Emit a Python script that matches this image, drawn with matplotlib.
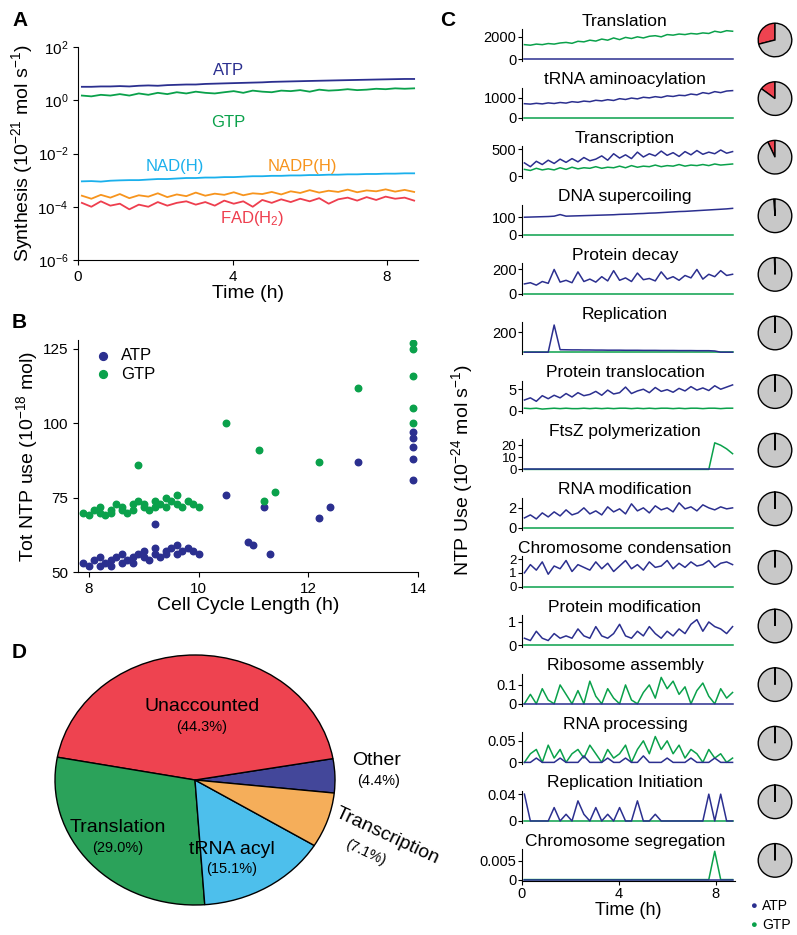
import numpy as np
import matplotlib.pyplot as plt

plt.rcParams['font.family'] = ['Liberation Sans', 'DejaVu Sans']
plt.rcParams['mathtext.default'] = 'regular'

ATPC, GTPC = '#2b2f8f', '#0aa14b'

# ---------------- data ----------------
t = np.linspace(0.1, 8.7, 36)

atp_syn = [3.2, 3.2, 3.3, 3.3, 3.4, 3.3, 3.5, 3.6, 3.5, 3.7, 3.8, 3.9, 3.9, 4.1, 4.2, 4.3, 4.4, 4.5,
           4.6, 4.7, 4.9, 5.0, 5.1, 5.2, 5.3, 5.4, 5.5, 5.6, 5.7, 5.8, 5.9, 6.0, 6.1, 6.2, 6.3, 6.3]
gtp_syn = [1.5, 1.4, 1.6, 1.5, 1.7, 1.5, 1.8, 1.6, 1.9, 1.7, 2.0, 1.8, 2.1, 1.9, 1.8, 2.0, 2.2, 1.9,
           2.3, 2.1, 2.0, 2.3, 2.2, 2.4, 2.1, 2.5, 2.3, 2.4, 2.6, 2.4, 2.5, 2.7, 2.6, 2.8, 2.7, 2.8]
nad_syn = [9.0e-4, 9.2e-4, 8.8e-4, 9.5e-4, 9.8e-4, 1.0e-3, 1.0e-3, 1.05e-3, 1.1e-3, 1.1e-3, 1.15e-3, 1.2e-3,
           1.2e-3, 1.25e-3, 1.25e-3, 1.3e-3, 1.3e-3, 1.35e-3, 1.4e-3, 1.4e-3, 1.45e-3, 1.45e-3, 1.5e-3, 1.5e-3,
           1.55e-3, 1.55e-3, 1.6e-3, 1.6e-3, 1.65e-3, 1.65e-3, 1.7e-3, 1.7e-3, 1.75e-3, 1.75e-3, 1.8e-3, 1.8e-3]
nadp_syn = [2.6e-4, 2.0e-4, 2.8e-4, 2.2e-4, 3.0e-4, 2.1e-4, 2.7e-4, 2.4e-4, 3.2e-4, 2.3e-4, 2.9e-4, 2.5e-4,
            3.4e-4, 2.6e-4, 3.1e-4, 2.8e-4, 3.5e-4, 2.7e-4, 3.2e-4, 3.0e-4, 3.6e-4, 2.9e-4, 3.8e-4, 3.3e-4,
            4.2e-4, 3.4e-4, 4.0e-4, 3.6e-4, 4.4e-4, 3.5e-4, 4.1e-4, 3.8e-4, 4.5e-4, 3.7e-4, 4.3e-4, 3.6e-4]
fad_syn = [1.4e-4, 1.0e-4, 1.6e-4, 1.1e-4, 1.3e-4, 0.8e-4, 1.2e-4, 1.0e-4, 1.5e-4, 1.1e-4, 1.4e-4, 1.6e-4,
           1.2e-4, 1.5e-4, 1.1e-4, 1.7e-4, 1.3e-4, 1.6e-4, 1.0e-4, 1.8e-4, 1.4e-4, 1.9e-4, 1.5e-4, 2.0e-4,
           1.6e-4, 2.1e-4, 1.3e-4, 1.9e-4, 2.2e-4, 1.7e-4, 2.3e-4, 1.8e-4, 2.4e-4, 2.0e-4, 2.2e-4, 1.7e-4]

atp_x = [7.9, 8.0, 8.1, 8.2, 8.2, 8.3, 8.4, 8.4, 8.5, 8.6, 8.6, 8.7, 8.8, 8.8, 8.9, 9.0, 9.0, 9.1, 9.2, 9.2,
         9.3, 9.4, 9.4, 9.5, 9.6, 9.6, 9.7, 9.8, 9.9, 10.0, 9.2, 10.5, 10.9, 11.0, 11.2, 11.3, 12.2, 12.4,
         12.9, 13.9, 13.9, 13.9, 13.9, 13.9]
atp_y = [53, 52, 54, 52, 55, 53, 54, 52, 55, 53, 56, 54, 55, 53, 56, 55, 57, 54, 56, 58, 55, 57, 56, 58, 56,
         59, 57, 58, 57, 56, 66, 76, 60, 59, 72, 56, 68, 72, 87, 81, 88, 95, 97, 92]
gtp_x = [7.9, 8.0, 8.1, 8.2, 8.2, 8.3, 8.4, 8.4, 8.5, 8.6, 8.6, 8.7, 8.8, 8.8, 8.9, 9.0, 9.0, 9.1, 9.2, 9.2,
         9.3, 9.4, 9.4, 9.5, 9.6, 9.6, 9.7, 9.8, 9.9, 10.0, 8.9, 10.5, 11.1, 11.4, 11.2, 12.2, 12.9, 13.9,
         13.9, 13.9, 13.9, 13.9]
gtp_y = [70, 69, 71, 70, 72, 69, 71, 70, 73, 71, 72, 70, 73, 71, 74, 72, 73, 71, 74, 72, 73, 75, 72, 74, 73,
         76, 72, 74, 73, 72, 86, 100, 91, 77, 74, 87, 112, 127, 125, 116, 105, 100]

pie_labels = ['Other', 'Unaccounted', 'Translation', 'tRNA acyl', 'Transcription']
pie_pct = [4.4, 44.3, 29.0, 15.1, 7.1]
pie_colors = ['#43479a', '#ee4350', '#2ba25a', '#4dbfec', '#f5ae5a']

Z = [0] * 36
processes = ['Translation', 'tRNA aminoacylation', 'Transcription', 'DNA supercoiling', 'Protein decay',
             'Replication', 'Protein translocation', 'FtsZ polymerization', 'RNA modification',
             'Chromosome condensation', 'Protein modification', 'Ribosome assembly', 'RNA processing',
             'Replication Initiation', 'Chromosome segregation']
ntp_atp = [
    Z,
    [700, 680, 720, 690, 740, 710, 760, 730, 800, 770, 830, 800, 870, 840, 900, 860, 950, 910, 980, 940,
     1020, 990, 1050, 1010, 1090, 1060, 1120, 1100, 1180, 1140, 1250, 1200, 1300, 1250, 1330, 1350],
    [250, 180, 280, 220, 300, 240, 320, 260, 330, 270, 350, 290, 320, 380, 300, 420, 340, 400, 330, 450,
     360, 420, 380, 470, 390, 440, 370, 460, 400, 480, 410, 450, 420, 490, 430, 460],
    [100, 101, 102, 103, 104, 106, 115, 106, 107, 108, 109, 110, 111, 112, 113, 114, 116, 117, 118, 120,
     121, 123, 124, 126, 128, 130, 132, 133, 135, 137, 139, 141, 143, 145, 147, 150],
    [80, 90, 70, 100, 85, 200, 95, 110, 90, 180, 100, 120, 95, 140, 105, 190, 110, 130, 100, 170, 115, 125,
     105, 180, 120, 140, 110, 150, 130, 200, 120, 160, 140, 190, 150, 160],
    [0, 0, 0, 0, 0, 270, 25, 24, 23, 23, 22, 22, 21, 21, 20, 20, 20, 19, 19, 19, 18, 18, 18, 17, 17, 17,
     16, 16, 16, 15, 15, 15, 12, 0, 0, 0],
    [2.5, 3.0, 2.2, 3.5, 2.8, 3.6, 3.0, 4.0, 3.2, 4.2, 3.5, 3.8, 4.5, 3.6, 4.8, 3.9, 4.2, 5.5, 4.0, 4.6,
     5.0, 4.2, 5.4, 4.5, 4.9, 4.3, 5.2, 4.6, 5.6, 4.8, 5.3, 4.7, 5.8, 5.0, 5.5, 6.0],
    Z,
    [1.0, 1.3, 0.9, 1.5, 1.1, 1.6, 1.2, 1.8, 1.3, 1.5, 2.0, 1.4, 1.7, 1.3, 2.1, 1.6, 1.9, 1.4, 2.4, 1.7,
     2.0, 1.5, 2.2, 1.8, 2.0, 1.6, 2.5, 1.9, 2.1, 1.7, 2.3, 2.0, 1.8, 2.1, 1.9, 2.0],
    [1.0, 1.6, 1.2, 1.8, 0.9, 1.5, 1.3, 1.9, 1.1, 1.6, 1.4, 1.2, 1.8, 1.3, 1.7, 1.1, 1.5, 1.9, 1.3, 1.6,
     1.2, 1.8, 1.4, 1.5, 1.9, 1.3, 1.7, 1.4, 1.8, 1.5, 1.6, 1.9, 1.4, 1.7, 1.8, 1.6],
    [0.3, 0.2, 0.6, 0.3, 0.2, 0.5, 0.3, 0.4, 0.3, 0.7, 0.4, 0.3, 0.8, 0.4, 0.3, 0.5, 0.9, 0.4, 0.3, 0.6,
     0.4, 0.8, 0.5, 0.3, 0.6, 0.4, 0.7, 0.5, 0.9, 1.1, 0.6, 1.0, 0.8, 0.7, 0.5, 0.8],
    Z,
    [0, 0, 0.01, 0, 0, 0, 0.01, 0, 0, 0, 0.015, 0, 0, 0, 0.01, 0, 0, 0.01, 0, 0, 0.015, 0, 0, 0, 0.01, 0,
     0, 0, 0.01, 0, 0, 0, 0.01, 0, 0, 0],
    [0.04, 0, 0, 0, 0, 0.02, 0, 0.01, 0, 0.03, 0.01, 0, 0.02, 0, 0.01, 0, 0.02, 0, 0, 0.03, 0, 0, 0.01, 0,
     0, 0, 0, 0, 0, 0, 0, 0.04, 0, 0.04, 0, 0],
    Z,
]
ntp_gtp = [
    [1300, 1250, 1350, 1300, 1400, 1350, 1450, 1500, 1420, 1600, 1550, 1700, 1620, 1800, 1700, 1900, 1750,
     1950, 1850, 2000, 1900, 2050, 2100, 2000, 2200, 2150, 2250, 2200, 2300, 2250, 2350, 2300, 2500, 2400,
     2550, 2500],
    Z,
    [130, 110, 150, 120, 140, 120, 160, 130, 170, 140, 160, 150, 180, 150, 170, 160, 190, 160, 200, 170,
     190, 180, 210, 180, 200, 190, 220, 190, 210, 200, 220, 200, 230, 210, 220, 230],
    Z, Z, Z,
    [0.6, 0.5, 0.6, 0.4, 0.5, 0.6, 0.5, 0.6, 0.5, 0.5, 0.6, 0.5, 0.6, 0.5, 0.6, 0.5, 0.6, 0.6, 0.5, 0.6,
     0.5, 0.6, 0.5, 0.6, 0.6, 0.5, 0.6, 0.5, 0.6, 0.6, 0.5, 0.6, 0.6, 0.5, 0.6, 0.6],
    [0] * 32 + [22, 20, 17, 13],
    Z, Z, Z,
    [0, 0.05, 0, 0.08, 0.02, 0, 0.1, 0.05, 0, 0.07, 0, 0.12, 0.04, 0, 0.08, 0.03, 0, 0.1, 0.02, 0, 0.06,
     0.1, 0.03, 0.14, 0.08, 0.12, 0.05, 0.09, 0, 0.07, 0.11, 0.04, 0, 0.08, 0.03, 0.06],
    [0, 0.02, 0.03, 0, 0.04, 0.01, 0.03, 0, 0.02, 0.03, 0.01, 0.04, 0.02, 0, 0.03, 0.01, 0.02, 0.04, 0,
     0.03, 0.05, 0.02, 0.06, 0.03, 0.05, 0.02, 0.04, 0.01, 0.03, 0.02, 0, 0.03, 0.01, 0.02, 0, 0.01],
    Z,
    [0] * 32 + [0.0075, 0, 0, 0],
]
ntp_ticks = [[0, 2000], [0, 1000], [0, 500], [0, 100], [0, 200], [200], [0, 5], [0, 10, 20], [0, 2],
             [0, 1, 2], [0, 1], [0, 0.1], [0, 0.05], [0, 0.04], [0, 0.005]]
ntp_ylim = [2700, 1500, 560, 170, 250, 300, 7, 25, 3, 2.2, 1.3, 0.16, 0.07, 0.045, 0.008]
ntp_frac = [0.29, 0.15, 0.07, 0.012, 0.006, 0.003, 0.003, 0.003, 0.002, 0.002, 0.002, 0.002, 0.002,
            0.002, 0.002]

# ---------------- figure ----------------
W, H = 797, 935
fig = plt.figure(figsize=(W / 100, H / 100), dpi=100)


def px(x0, y0, x1, y1):
    return [x0 / W, 1 - y1 / H, (x1 - x0) / W, (y1 - y0) / H]


def clean(ax):
    for s in ['top', 'right']:
        ax.spines[s].set_visible(False)


# A
ax = fig.add_axes(px(78, 47, 418, 260))
clean(ax)
ax.semilogy(t, atp_syn, color=ATPC, lw=1.3)
ax.semilogy(t, gtp_syn, color=GTPC, lw=1.3)
ax.semilogy(t, nad_syn, color='#1ab0ec', lw=1.3)
ax.semilogy(t, nadp_syn, color='#f7941d', lw=1.3)
ax.semilogy(t, fad_syn, color='#ee3e4e', lw=1.3)
ax.set_ylim(1e-6, 1e2)
ax.set_xlim(0, 8.8)
ax.set_yticks([1e-6, 1e-4, 1e-2, 1e0, 1e2])
ax.minorticks_off()
ax.set_xticks([0, 4, 8])
ax.tick_params(labelsize=11)
ax.text(3.9, 9, 'ATP', color=ATPC, fontsize=12, ha='center')
ax.text(3.9, 0.28, 'GTP', color=GTPC, fontsize=12, ha='center', va='top')
ax.text(2.5, 2.2e-3, 'NAD(H)', color='#1ab0ec', fontsize=12, ha='center')
ax.text(5.8, 2.2e-3, 'NADP(H)', color='#f7941d', fontsize=12, ha='center')
ax.text(4.5, 2.5e-5, 'FAD(H$_2$)', color='#ee3e4e', fontsize=12, ha='center')
ax.set_xlabel('Time (h)', fontsize=14, labelpad=1)
ax.set_ylabel('Synthesis (10$^{-21}$ mol s$^{-1}$)', fontsize=14, labelpad=2)
fig.text(12 / W, 1 - 20 / H, 'A', fontsize=15, fontweight='bold', va='center')

# B
ax = fig.add_axes(px(78, 340, 418, 572))
clean(ax)
ax.scatter(atp_x, atp_y, s=22, color=ATPC, label='ATP', zorder=3)
ax.scatter(gtp_x, gtp_y, s=22, color=GTPC, label='GTP', zorder=3)
ax.set_xlim(7.8, 14)
ax.set_ylim(50, 128)
ax.set_xticks([8, 10, 12, 14])
ax.set_yticks([50, 75, 100, 125])
ax.tick_params(labelsize=11)
ax.legend(loc='upper left', frameon=False, fontsize=12, handletextpad=0.1, borderaxespad=0.1,
          labelspacing=0.2, markerscale=1.2)
ax.set_xlabel('Cell Cycle Length (h)', fontsize=14, labelpad=1)
ax.set_ylabel('Tot NTP use (10$^{-18}$ mol)', fontsize=14, labelpad=2)
fig.text(12 / W, 1 - 323 / H, 'B', fontsize=15, fontweight='bold', va='center')

# D
ax = fig.add_axes(px(55, 655, 335, 905))
wedges, _ = ax.pie(pie_pct, colors=pie_colors, startangle=-6, counterclock=True,
                   wedgeprops=dict(edgecolor='black', linewidth=1))
ax.set_aspect('auto')
ax.set_xlim(-1, 1)
ax.set_ylim(-1, 1)
lab = [(1.12, 0.09, 'left', 0), (0.05, 0.52, 'center', 0), (-0.55, -0.45, 'center', 0),
       (0.26, -0.62, 'center', 0), (0.98, -0.32, 'left', -25)]
for (x, y, ha, rot), name, p in zip(lab, pie_labels, pie_pct):
    ax.text(x, y, name, fontsize=14, ha=ha, va='bottom', rotation=rot, rotation_mode='anchor')
    dy = -0.04 if rot == 0 else -0.14
    dx = 0.04 if rot == 0 else 0.12
    ax.text(x + (dx if ha == 'left' else 0), y + dy, '(%.1f%%)' % p, fontsize=10.5, ha=ha, va='top',
            rotation=rot, rotation_mode='anchor')
fig.text(12 / W, 1 - 652 / H, 'D', fontsize=15, fontweight='bold', va='center')

# C
fig.text(440 / W, 1 - 20 / H, 'C', fontsize=15, fontweight='bold', va='center')
for i, name in enumerate(processes):
    base = 59 + 58.6 * i
    top = ntp_ylim[i]
    ax = fig.add_axes(px(522, base - 30, 735, base + 2))
    clean(ax)
    ax.plot(t, ntp_gtp[i], color=GTPC, lw=1.1)
    ax.plot(t, ntp_atp[i], color=ATPC, lw=1.1)
    ax.set_ylim(-top * 0.06, top)
    ax.set_xlim(0, 8.8)
    ax.set_yticks(ntp_ticks[i])
    ax.set_yticklabels(['%g' % v for v in ntp_ticks[i]])
    ax.tick_params(labelsize=9.5 if len(ntp_ticks[i]) == 3 else 10.5, pad=1, length=3)
    if i < len(processes) - 1:
        ax.spines['bottom'].set_visible(False)
        ax.set_xticks([])
    else:
        ax.set_xticks([0, 4, 8])
        ax.set_xlabel('Time (h)', fontsize=13, labelpad=1)
    fig.text(625 / W, 1 - (base - 38) / H, name, fontsize=12.5, ha='center', va='center')

    pa = fig.add_axes(px(754, base - 40, 796, base + 2))
    f = ntp_frac[i]
    pa.pie([f, 1 - f], colors=['#ee4350', '#c8c8c8'], startangle=90, counterclock=True,
           wedgeprops=dict(edgecolor='black', linewidth=1))

fig.text(462 / W, 1 - 470 / H, 'NTP Use (10$^{-24}$ mol s$^{-1}$)', fontsize=14, rotation=90,
         ha='center', va='center')
fig.text(750 / W, 1 - 906 / H, '\u25cf', color=ATPC, fontsize=8, va='center')
fig.text(762 / W, 1 - 906 / H, 'ATP', fontsize=10, va='center')
fig.text(750 / W, 1 - 925 / H, '\u25cf', color=GTPC, fontsize=8, va='center')
fig.text(762 / W, 1 - 925 / H, 'GTP', fontsize=10, va='center')

fig.savefig('out.png', dpi=100)
